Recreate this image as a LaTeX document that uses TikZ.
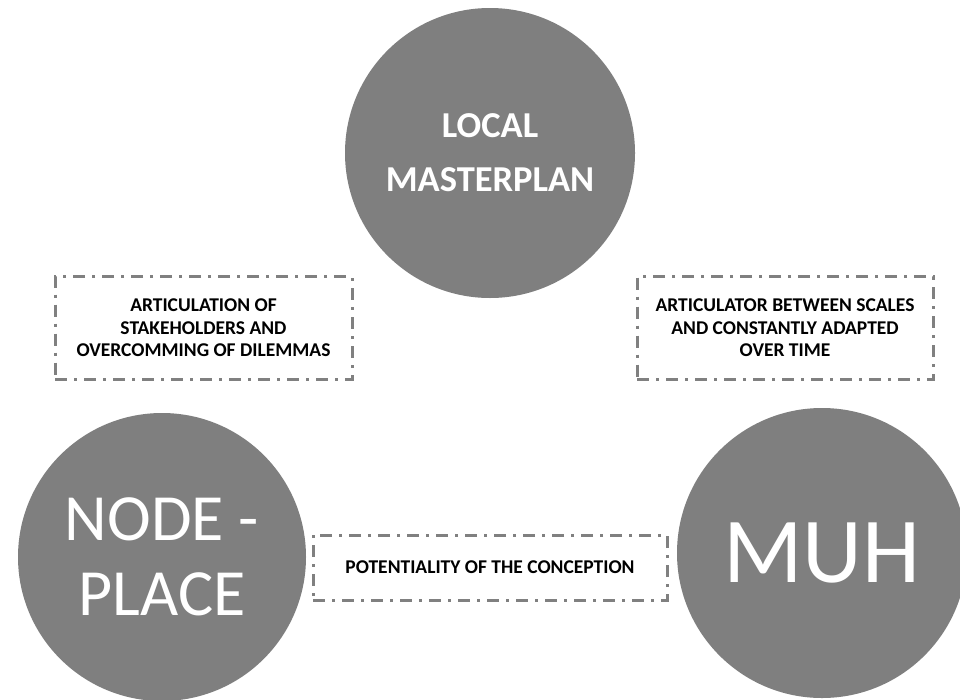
\documentclass[tikz,border=0pt]{standalone}
\usepackage{fontspec}
\setmainfont{Carlito}
\definecolor{circgray}{RGB}{127,127,127}
\definecolor{dashgray}{RGB}{128,128,128}
\tikzset{
  bigcirc/.style={circle, fill=circgray, draw=none, minimum size=290, inner sep=0pt, text=white, align=center},
  dashbox/.style={draw=dashgray, line width=3pt, dash pattern=on 12pt off 7pt on 3pt off 7pt, fill=white, inner sep=0pt, align=center, text=black, font=\bfseries\fontsize{19.5}{22.5}\selectfont},
}
\begin{document}
\begin{tikzpicture}[x=1pt,y=-1pt]
\useasboundingbox (0,0) rectangle (960,699);
\clip (0,0) rectangle (960,699);
\fill[white] (0,0) rectangle (960,699);
\node[bigcirc, font=\bfseries\fontsize{36.5}{54}\selectfont] (lm) at (490,153) {LOCAL\\MASTERPLAN};
\node[bigcirc, minimum size=288, font=\fontsize{66}{75}\selectfont] (np) at (162,557) {NODE -\\PLACE};
\node[bigcirc, font=\fontsize{93}{100}\selectfont] (muh) at (822,553) {MUH};
\node[dashbox, minimum width=297, minimum height=103] (b1) at (203.5,328) {ARTICULATION OF\\STAKEHOLDERS AND\\OVERCOMMING OF DILEMMAS};
\node[dashbox, minimum width=296, minimum height=103] (b2) at (785,328) {ARTICULATOR BETWEEN SCALES\\AND CONSTANTLY ADAPTED\\OVER TIME};
\node[dashbox, minimum width=354, minimum height=65] (b3) at (490,567.5) {POTENTIALITY OF THE CONCEPTION};
\end{tikzpicture}
\end{document}
